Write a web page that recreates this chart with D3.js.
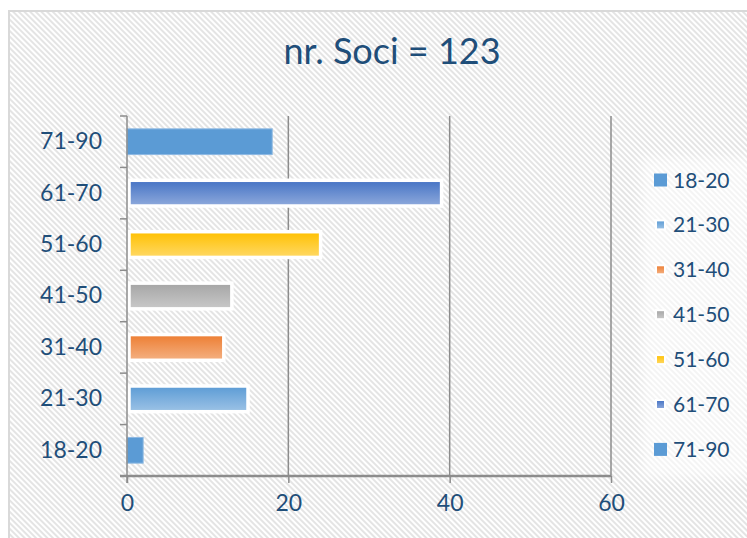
<!DOCTYPE html>
<html><head><meta charset="utf-8">
<script src="https://cdn.jsdelivr.net/npm/d3@7/dist/d3.min.js"></script>
<style>body{margin:0;background:#fff;}svg{display:block;}text{font-family:Lato,"Open Sans",sans-serif;}</style>
</head><body><svg id="c" width="747" height="538"></svg>
<script>
const title = "nr. Soci = 123";
const categories = ["18-20","21-30","31-40","41-50","51-60","61-70","71-90"];
const values = [2,15,12,13,24,39,18];
const xTicks = [0,20,40,60];
const colorsTop = ["#5B9BD5","#5B9BD5","#ED7D31","#A5A5A5","#FFC000","#4472C4","#5B9BD5"];
const colorsBottom = ["#5B9BD5","#9DC3E6","#F4B183","#C9C9C9","#FFD966","#8FAADC","#5B9BD5"];
const flat = [true,false,false,false,false,false,true];

const svg = d3.select("#c");
const defs = svg.append("defs");
const pat = defs.append("pattern").attr("id","hatch").attr("patternUnits","userSpaceOnUse")
  .attr("width",4).attr("height",4).attr("patternTransform","rotate(-45)");
pat.append("rect").attr("width",4).attr("height",4).attr("fill","#ffffff");
pat.append("rect").attr("width",2).attr("height",4).attr("fill","#e4e4e4");
categories.forEach((c,i)=>{
  const g = defs.append("linearGradient").attr("id","g"+i).attr("x1",0).attr("y1",0).attr("x2",0).attr("y2",1);
  g.append("stop").attr("offset","0%").attr("stop-color",colorsTop[i]);
  g.append("stop").attr("offset","100%").attr("stop-color",colorsBottom[i]);
});
const blur = defs.append("filter").attr("id","soft").attr("x","-20%").attr("y","-20%").attr("width","140%").attr("height","140%");
blur.append("feGaussianBlur").attr("stdDeviation",6);

svg.append("rect").attr("x",0).attr("y",0).attr("width",747).attr("height",538).attr("fill","#fff");
svg.append("rect").attr("x",9).attr("y",11).attr("width",750).attr("height",540)
  .attr("fill","url(#hatch)").attr("stroke","#d9d9d9").attr("stroke-width",2);

// legend soft box
svg.append("rect").attr("x",642).attr("y",158).attr("width",110).attr("height",320)
  .attr("fill","#fff").attr("opacity",0.6).attr("filter","url(#soft)");

svg.append("text").attr("x",392).attr("y",64).attr("text-anchor","middle")
  .attr("font-size",36).attr("fill","#1F4E79").text(title);

const L=127, R=611, T=116, B=476;
const x = d3.scaleLinear().domain([0,60]).range([L,R]);
const y = d3.scaleBand().domain(categories.slice().reverse()).range([T,B]).paddingInner(0.5).paddingOuter(0.25);

// gridlines
svg.append("g").selectAll("line").data(xTicks.slice(1)).join("line")
  .attr("x1",d=>x(d)).attr("x2",d=>x(d)).attr("y1",T).attr("y2",B)
  .attr("stroke","#8c8c8c").attr("stroke-width",1.5);

// bars
const bars = svg.append("g");
categories.forEach((c,i)=>{
  if(flat[i]){
    bars.append("rect").attr("x",x(0)).attr("y",y(c)).attr("width",x(values[i])-x(0)).attr("height",y.bandwidth())
      .attr("fill",colorsTop[i]).attr("stroke","#8DB9E2").attr("stroke-width",1);
  } else {
    bars.append("rect").attr("x",x(0)+2).attr("y",y(c)).attr("width",x(values[i])-x(0)-2).attr("height",y.bandwidth())
      .attr("fill","url(#g"+i+")").attr("stroke","#ffffff").attr("stroke-width",3.5);
  }
});

// axes
const yAxis = d3.axisLeft(y).tickSize(0).tickPadding(25);
const ya = svg.append("g").attr("transform",`translate(${L},0)`).call(yAxis);
ya.select(".domain").remove();
ya.selectAll("text").attr("font-size",23).attr("fill","#1F4E79").attr("font-family","Lato");
// y tick marks at band boundaries
const bounds = d3.range(categories.length+1).map(k=>T + k*(B-T)/categories.length);
svg.append("g").selectAll("line").data(bounds).join("line")
  .attr("x1",L-7).attr("x2",L).attr("y1",d=>d).attr("y2",d=>d).attr("stroke","#8c8c8c").attr("stroke-width",1.5);
svg.append("line").attr("x1",L).attr("x2",L).attr("y1",T).attr("y2",B+7).attr("stroke","#8c8c8c").attr("stroke-width",1.5);

const xAxis = d3.axisBottom(x).tickValues(xTicks).tickSize(7).tickPadding(12).tickSizeOuter(0);
const xa = svg.append("g").attr("transform",`translate(0,${B})`).call(xAxis);
xa.select(".domain").attr("stroke","#8c8c8c").attr("stroke-width",2.5).attr("d",`M${L-7},0H${R}`);
xa.selectAll(".tick line").attr("stroke","#8c8c8c").attr("stroke-width",1.5);
xa.selectAll("text").attr("font-size",23).attr("fill","#1F4E79").attr("font-family","Lato");

// legend
const lg = svg.append("g");
categories.forEach((c,i)=>{
  const cy = 180 + i*44.9;
  if(flat[i]){
    lg.append("rect").attr("x",654).attr("y",cy-6.5).attr("width",13).attr("height",13).attr("fill",colorsTop[i]);
  } else {
    lg.append("rect").attr("x",656).attr("y",cy-4.5).attr("width",9).attr("height",9)
      .attr("fill","url(#g"+i+")").attr("stroke","#fff").attr("stroke-width",2);
  }
  lg.append("text").attr("x",673).attr("y",cy).attr("dy","0.36em").attr("font-size",21)
    .attr("fill","#1F4E79").text(c);
});
</script></body></html>
